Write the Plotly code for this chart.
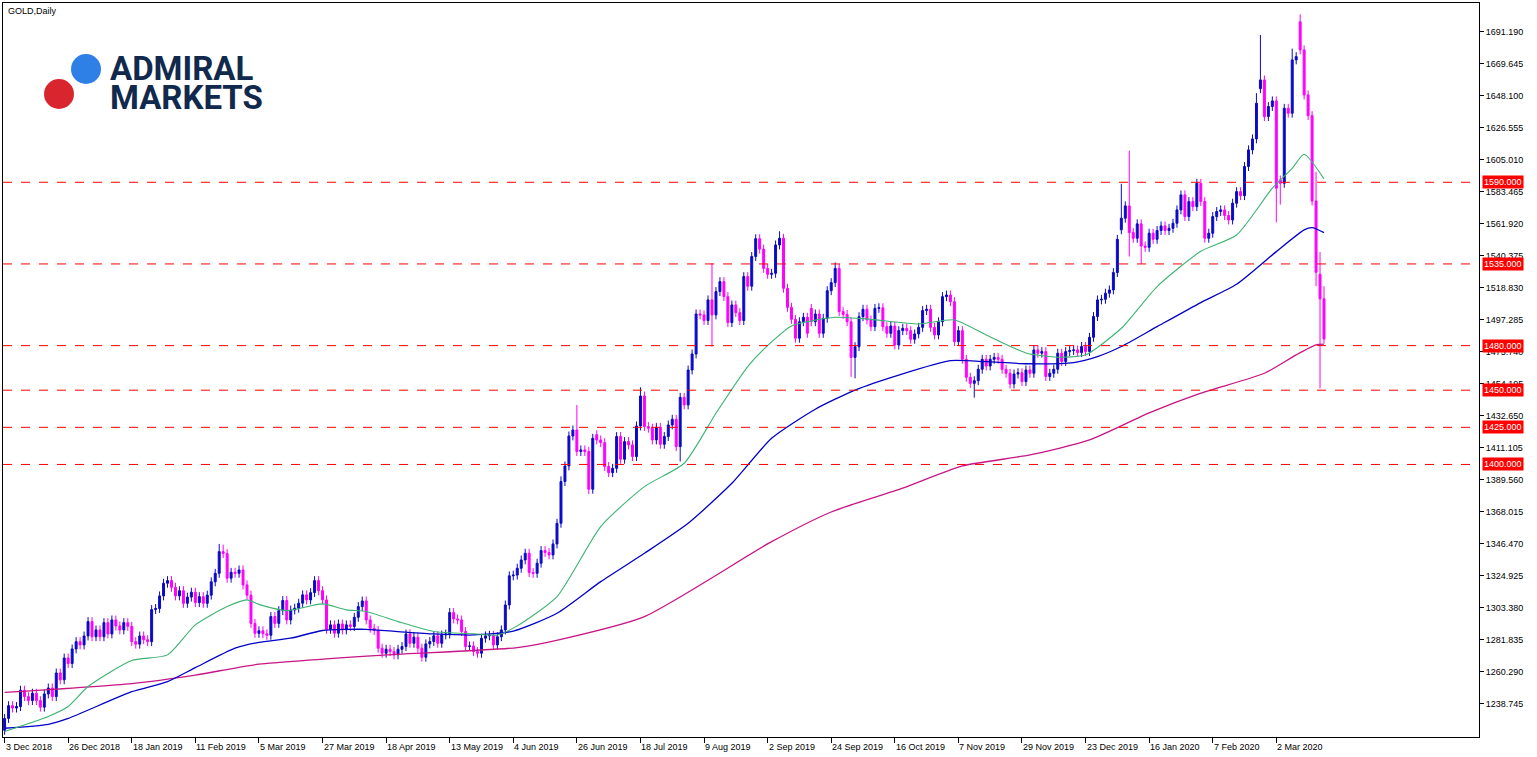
import plotly.graph_objects as go

closes = [
1229,1237.6,1236,1237,1248,1243.7,1241,1246,1241,1236.6,1245.5,1249.5,1243.7,1259.6,1255,1269.7,1266,1275.8,1280.7,1278.5,
1284.5,1294.2,1284,1288.6,1284,1293.5,1285.9,1295.3,1291.3,1288.6,1293.5,1291,1280.7,1279,1284.5,1282,1280.7,1302.3,1303,1311.5,
1320,1321.8,1317.3,1311.5,1315,1306.5,1310.7,1314,1307,1311,1306.5,1312,1321,1326.7,1341.3,1340,1323.4,1327.4,1326.7,1329,
1318.9,1312,1293,1286.3,1288,
1286,1285,1297.6,1293,1301.6,1308.4,1295.3,1302,1303.2,1306.6,1312.2,1308.8,1313.7,1321.8,1315,1308.8,1289,1292,1286.4,1292.6,
1288.6,1292,1290.9,1297.1,1304.3,1308.1,1295.3,1289.7,1288.2,1276.3,1272.9,1275.6,1274,1271.8,1275.6,1277.4,1285.9,1279.6,1283.7,1276.3,
1270.2,1279.2,1280.8,1284.6,1279.6,1285.2,1285.8,1300.3,1296,1295.3,1287.5,1277.4,1277.8,1274,1272.9,1283,1284.6,1285,1278.5,1284,
1288.6,1305.4,1325,1325.5,
1330.1,1335.7,1340.2,1327.2,1326.7,1333.5,1342,1340.7,1339.1,1346.5,1360.4,1388.5,1399,1419.2,1423.2,1408.7,1409.8,1408.7,1383.3,1417.6,
1416.5,1414.7,1398.6,1394.5,1397.4,1418.8,1403.5,1415.4,1413.2,1405.3,1425.9,1446.1,1425.5,1424.4,1416.5,1425,1413.6,1418.8,1426.6,1430.4,
1412,1445.2,1440.1,1463.6,1474.4,1501.3,1500.7,1496.9,1510.8,1500.7,1516.4,1523.1,1513,1495.5,1507.4,1502.2,1496.9,1526.5,1520,1540,
1552,1545,1532,1528,
1528.7,1547.8,1552.3,1518.6,1505.8,1497.7,1485,1496.1,1499.1,1488.3,1496.1,1501.3,1488.3,1498.4,1517,1522.4,1532,1502.9,1501,1496.1,
1472.1,1479.3,1499.5,1504.5,1497.3,1492.8,1505.1,1505.5,1492.8,1488.3,1493.2,1480.4,1490.1,1491.7,1490.1,1484.3,1487.9,1492.3,1503.6,1504.5,
1492.3,1487.2,1496.1,1513,1514.1,1509.6,1482.7,1490.1,1470.8,1458.7,1454.6,1456.4,1464.1,1470.8,1466.3,1470.8,1472.1,1470.8,1464.1,1461.4,
1454.2,1460.9,1461.8,1455.8,1463.6,
1461.4,1477.1,1474.9,1476,1459.2,1461.4,1464.1,1474.9,1469.3,1476,1476.7,1477.1,1475.3,1479.4,1476,1485.6,1499.6,1510.8,1511.2,1515.3,
1517.5,1529.2,1551.6,1565.8,1574.1,1556.1,1552.3,1562,1547.1,1546.2,1555.7,1551.6,1557.5,1560.6,1557.5,1559,1562.4,1571.4,1581.5,1566.9,
1577,1573.6,1589.3,1577,
1552.3,1555.7,1566.9,1570.3,1571.4,1567.6,1564.6,1575.9,1583.7,1581,1600.6,1611.8,1619.2,1643.2,1658.9,1634.2,1641,1644.8,1586,1589.3,
1639.8,1636.5,1672.4,1674.6,1679.1,1648.8,1634.9,1577.4,1529.4,1511.5,1484.5]

open_gaps = {0: 1221, 149: 1420, 203: 1505, 281: 1558, 316: 1653, 321: 1591.5, 326: 1698, 331: 1528}
high_marks = {13: 1262, 54: 1346.5, 55: 1346, 140: 1392, 144: 1440, 160: 1452, 178: 1535.5, 195: 1557, 209: 1536,
              281: 1589, 283: 1611.3, 315: 1650, 316: 1689.2, 322: 1641, 324: 1680, 326: 1703.1, 330: 1597, 331: 1543, 332: 1520}
low_marks = {147: 1380, 170: 1402, 178: 1479.4, 213: 1459, 214: 1458, 244: 1445, 283: 1540, 286: 1535,
             320: 1563, 321: 1575, 330: 1520, 331: 1451.3}
wick = 3

ma_fast_idx = [0,11,16,21,32,41,48,56,61,64,71,80,86,91,99,108,118,124,129,139,150,161,171,179,187,193,198,209,218,230,239,247,257,265,272,281,290,301,310,319,324,327,332]
ma_fast = [1220.2,1230.3,1237,1250.5,1268,1271.8,1292,1304.3,1308.8,1305.8,1301.6,1306.1,1302.1,1301,1294.2,1287.5,1286,1285.2,1291.3,1311,1358.2,1385.1,1400.8,1434.5,1465.9,1482.5,1493.3,1499.1,1497.7,1494.6,1497.3,1487.2,1475.1,1472.2,1473.8,1491.7,1519.8,1543.5,1554.5,1586,1599.4,1608.9,1592.3]
ma_mid_idx = [0,11,16,32,41,48,58,64,72,80,91,99,108,118,128,139,150,161,172,183,193,204,214,225,238,247,257,269,275,281,290,301,310,320,327,329,332]
ma_mid = [1222.4,1225,1229,1247,1253.8,1263.2,1276.3,1280.2,1283,1288.2,1289,1287.5,1285.9,1285.2,1287.8,1299.8,1321.1,1340.2,1360.4,1387.3,1417.6,1437.2,1450.1,1460.2,1469.9,1469.2,1467.8,1468.6,1472.6,1479.4,1492.8,1509,1521.3,1543.3,1557.9,1559.5,1556.1]
ma_slow_idx = [0,32,48,64,96,129,140,161,193,208,226,241,258,273,288,301,317,325,330,332]
ma_slow = [1246.5,1252.5,1258.2,1265.5,1271.8,1276.7,1282.3,1297.6,1348,1368,1384,1399,1406.4,1416.5,1434.7,1448,1461.4,1473.8,1480.5,1481]

levels = [1590, 1535, 1480, 1450, 1425, 1400]
tick_step_bars = 16
date_labels = ["3 Dec 2018","26 Dec 2018","18 Jan 2019","11 Feb 2019","5 Mar 2019","27 Mar 2019","18 Apr 2019",
               "13 May 2019","4 Jun 2019","26 Jun 2019","18 Jul 2019","9 Aug 2019","2 Sep 2019","24 Sep 2019",
               "16 Oct 2019","7 Nov 2019","29 Nov 2019","23 Dec 2019","16 Jan 2020","7 Feb 2020","2 Mar 2020"]
y_ticks = [1238.745,1260.290,1281.835,1303.380,1324.925,1346.470,1368.015,1389.560,1411.105,1432.650,1454.195,
           1475.740,1497.285,1518.830,1540.375,1561.920,1583.465,1605.010,1626.555,1648.100,1669.645,1691.190]

n = len(closes)
x = list(range(n))
opens = [open_gaps.get(i, closes[i-1] if i > 0 else closes[0]) for i in range(n)]
highs = [max(high_marks.get(i, 0), max(opens[i], closes[i]) + wick) for i in range(n)]
lows = [min(low_marks.get(i, 1e9), min(opens[i], closes[i]) - wick) for i in range(n)]

NAVY = "#0A0AC8"; MAG = "#FF00FF"
FONT = "Liberation Sans"
fig = go.Figure()
fig.add_trace(go.Scatter(x=ma_slow_idx, y=ma_slow, mode="lines", line=dict(color="#C71585", width=1.3, shape="spline", smoothing=0.6), hoverinfo="skip"))
fig.add_trace(go.Scatter(x=ma_mid_idx, y=ma_mid, mode="lines", line=dict(color="#0000C8", width=1.3, shape="spline", smoothing=0.6), hoverinfo="skip"))
fig.add_trace(go.Scatter(x=ma_fast_idx, y=ma_fast, mode="lines", line=dict(color="#3CB371", width=1.1, shape="spline", smoothing=0.6), hoverinfo="skip"))
fig.add_trace(go.Candlestick(x=x, open=opens, high=highs, low=lows, close=closes,
    increasing=dict(line=dict(color=NAVY, width=1), fillcolor=NAVY),
    decreasing=dict(line=dict(color=MAG, width=1), fillcolor=MAG),
    whiskerwidth=0, hoverinfo="skip"))

shapes = []
ann = []
for lv in levels:
    shapes.append(dict(type="line", xref="paper", x0=0, x1=1, yref="y", y0=lv, y1=lv,
                       line=dict(color="#FF0000", width=1, dash="dash")))
    ann.append(dict(x=1, xref="paper", y=lv, yref="y", xanchor="left", xshift=3, text=f"{lv:.3f}",
                    showarrow=False, bgcolor="#FF0000", font=dict(color="white", size=9, family=FONT),
                    borderpad=1))
tickx = [i * tick_step_bars for i in range(len(date_labels))]
for tx, lab in zip(tickx, date_labels):
    ann.append(dict(x=tx, xref="x", y=0, yref="paper", yshift=-3, xanchor="left", yanchor="top", xshift=-1,
                    text=lab, showarrow=False, font=dict(size=9, family=FONT, color="black")))
ann.append(dict(x=0, xref="paper", y=1, yref="paper", xanchor="left", yanchor="top", xshift=3, yshift=-1,
                text="GOLD,Daily", showarrow=False, font=dict(size=9, family=FONT, color="black")))
W, H = 1476, 734
def px(xp): return (xp - 3) / W
def py(yp): return 1 - (yp - 3) / H
for cx, cy, col in [(86, 69, "#2F80E6"), (59, 94, "#D9262E")]:
    shapes.append(dict(type="circle", xref="paper", yref="paper", x0=px(cx-15), x1=px(cx+15), y0=py(cy+15), y1=py(cy-15),
                       fillcolor=col, line=dict(width=0)))
for txt, yy in [("ADMIRAL", 68), ("MARKETS", 97)]:
    ann.append(dict(x=px(108), xref="paper", y=py(yy), yref="paper", xanchor="left", yanchor="middle", text=f"<b>{txt}</b>",
                    showarrow=False, font=dict(size=33, family="Roboto", color="#10294D")))

fig.update_layout(width=1537, height=757, margin=dict(l=3, r=58, t=3, b=20),
    paper_bgcolor="white", plot_bgcolor="white", showlegend=False, shapes=shapes, annotations=ann,
    xaxis=dict(range=[-0.4, 371], rangeslider=dict(visible=False), showgrid=False, zeroline=False,
               tickvals=tickx, ticktext=[""]*len(tickx), ticks="outside", ticklen=5, tickcolor="black",
               showline=True, linecolor="black", mirror=True),
    yaxis=dict(range=[1216.5, 1710.7], side="right", showgrid=False, zeroline=False, tickvals=y_ticks,
               ticktext=[f"{v:.3f}" for v in y_ticks], ticks="outside", ticklen=4, tickcolor="black",
               tickfont=dict(size=9, family=FONT, color="black"),
               showline=True, linecolor="black", mirror=True),
    hovermode=False)
fig.write_html("out.html", config={"displayModeBar": False},
               post_script="document.body.style.margin='0';document.body.style.overflow='hidden';")
